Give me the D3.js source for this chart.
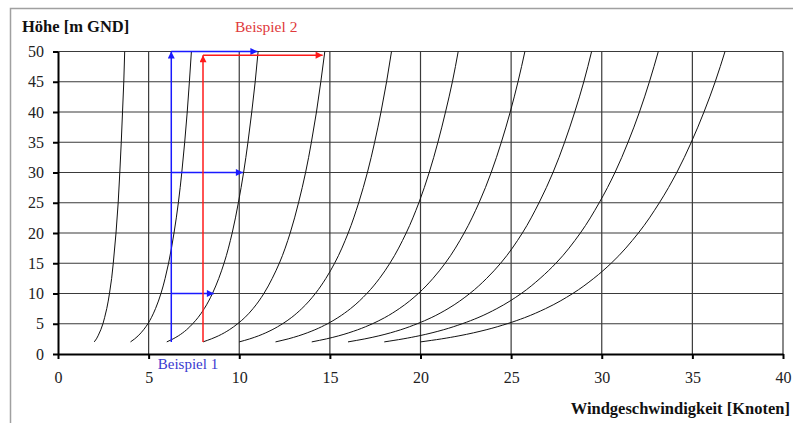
<!DOCTYPE html>
<html>
<head>
<meta charset="utf-8">
<script src="https://cdn.jsdelivr.net/npm/d3@7"></script>
<style>
  body { margin: 0; background: #fff; }
  svg text { font-family: "Liberation Serif", "Times New Roman", serif; }
</style>
</head>
<body>
<svg id="chart" width="793" height="423"></svg>
<script>
// Windprofil: Geschwindigkeit über Höhe, Kurven ab 2 m
const heights = [2, 2.5, 3, 4, 5, 6, 7.5, 10, 12.5, 15, 20, 25, 30, 35, 40, 45, 50];

const curve2  = [2.00, 2.12, 2.21, 2.36, 2.48, 2.57, 2.69, 2.84, 2.96, 3.05, 3.20, 3.32, 3.41, 3.49, 3.56, 3.63, 3.68];
const curve4  = [4.00, 4.23, 4.42, 4.72, 4.96, 5.15, 5.38, 5.68, 5.91, 6.10, 6.40, 6.64, 6.83, 6.99, 7.13, 7.25, 7.36];
const curve6  = [6.00, 6.35, 6.64, 7.09, 7.43, 7.72, 8.07, 8.52, 8.87, 9.16, 9.61, 9.95, 10.24, 10.48, 10.69, 10.88, 11.04];
const curve8  = [8.00, 8.46, 8.85, 9.45, 9.91, 10.30, 10.76, 11.36, 11.82, 12.21, 12.81, 13.27, 13.66, 13.98, 14.26, 14.50, 14.72];
const curve10 = [10.00, 10.58, 11.06, 11.81, 12.39, 12.87, 13.45, 14.20, 14.78, 15.26, 16.01, 16.59, 17.07, 17.47, 17.82, 18.13, 18.40];
const curve12 = [12.00, 12.70, 13.27, 14.17, 14.87, 15.44, 16.14, 17.04, 17.74, 18.31, 19.21, 19.91, 20.48, 20.96, 21.38, 21.76, 22.08];
const curve14 = [14.00, 14.81, 15.48, 16.53, 17.35, 18.02, 18.83, 19.88, 20.69, 21.36, 22.41, 23.23, 23.90, 24.46, 24.95, 25.38, 25.76];
const curve16 = [16.00, 16.93, 17.70, 18.90, 19.82, 20.59, 21.52, 22.72, 23.65, 24.42, 25.62, 26.54, 27.31, 27.95, 28.51, 29.01, 29.44];
const curve18 = [18.00, 19.04, 19.91, 21.26, 22.30, 23.17, 24.21, 25.56, 26.60, 27.47, 28.82, 29.86, 30.73, 31.45, 32.08, 32.63, 33.12];
const curve20 = [20.00, 21.16, 22.12, 23.62, 24.78, 25.74, 26.90, 28.40, 29.56, 30.52, 32.02, 33.18, 34.14, 34.94, 35.64, 36.26, 36.80];
const curves = [curve2, curve4, curve6, curve8, curve10, curve12, curve14, curve16, curve18, curve20];

const xTicks = [0, 5, 10, 15, 20, 25, 30, 35, 40];
const yTicks = [0, 5, 10, 15, 20, 25, 30, 35, 40, 45, 50];

// Beispiele: senkrechte Linie [x, h von, h bis], Pfeile [h, x bis]
const beispiel1Line = [6.25, 2, 50];
const beispiel1Arrows = [[10, 8.6], [30, 10.2], [50, 11.0]];
const beispiel2Line = [8.0, 2, 49.4];
const beispiel2Arrows = [[49.4, 14.6]];

const svg = d3.select('#chart');
const x = d3.scaleLinear().domain([0, 40]).range([58, 783]);
const y = d3.scaleLinear().domain([0, 50]).range([354, 51.5]);

// Rahmen (oben und links)
svg.append('path')
  .attr('d', 'M10.5,423 L10.5,8.5 L793,8.5')
  .attr('fill', 'none').attr('stroke', '#a0a0a0').attr('stroke-width', 1.5);

// Gitter
svg.append('g').selectAll('line').data(xTicks.slice(1)).join('line')
  .attr('x1', d => x(d)).attr('x2', d => x(d))
  .attr('y1', y(0)).attr('y2', y(50))
  .attr('stroke', '#3a3a3a').attr('stroke-width', 1.2);
svg.append('g').selectAll('line').data(yTicks.slice(1)).join('line')
  .attr('x1', x(0)).attr('x2', x(40))
  .attr('y1', d => y(d)).attr('y2', d => y(d))
  .attr('stroke', '#3a3a3a').attr('stroke-width', 1.2);

// Achsen
const ax = svg.append('g').attr('transform', `translate(0,${y(0)})`)
  .call(d3.axisBottom(x).tickValues(xTicks).tickSize(5).tickPadding(13).tickSizeOuter(0));
const ay = svg.append('g').attr('transform', `translate(${x(0)},0)`)
  .call(d3.axisLeft(y).tickValues(yTicks).tickSize(5).tickPadding(9).tickSizeOuter(0));
[ax, ay].forEach(a => {
  a.select('.domain').attr('stroke', '#000').attr('stroke-width', 2);
  a.selectAll('.tick line').attr('stroke', '#000').attr('stroke-width', 2);
  a.selectAll('.tick text').attr('fill', '#222').style('font-size', '16px')
    .style('font-family', '"Liberation Serif", serif');
});

// Profilkurven
const line = d3.line()
  .x(d => x(d[0])).y(d => y(d[1]))
  .curve(d3.curveMonotoneY);
svg.append('g').selectAll('path').data(curves).join('path')
  .attr('d', c => line(c.map((v, i) => [v, heights[i]])))
  .attr('fill', 'none').attr('stroke', '#111').attr('stroke-width', 1);

// Pfeilspitzen
const defs = svg.append('defs');
[['blue', '#1a1aff'], ['red', '#ff1a1a']].forEach(([id, col]) => {
  defs.append('marker').attr('id', 'arr-' + id)
    .attr('viewBox', '0 0 10 10').attr('refX', 10).attr('refY', 5)
    .attr('markerWidth', 10).attr('markerHeight', 7)
    .attr('markerUnits', 'userSpaceOnUse').attr('orient', 'auto')
    .append('path').attr('d', 'M0,0 L10,5 L0,10 Z').attr('fill', col);
});

function drawExample(lineDef, arrows, id, col) {
  const g = svg.append('g');
  g.append('line')
    .attr('x1', x(lineDef[0])).attr('x2', x(lineDef[0]))
    .attr('y1', y(lineDef[1])).attr('y2', y(lineDef[2]))
    .attr('stroke', col).attr('stroke-width', 1.5)
    .attr('marker-end', `url(#arr-${id})`);
  g.selectAll('.h').data(arrows).join('line')
    .attr('x1', x(lineDef[0])).attr('x2', d => x(d[1]))
    .attr('y1', d => y(d[0])).attr('y2', d => y(d[0]))
    .attr('stroke', col).attr('stroke-width', 1.5)
    .attr('marker-end', `url(#arr-${id})`);
}
drawExample(beispiel1Line, beispiel1Arrows, 'blue', '#1a1aff');
drawExample(beispiel2Line, beispiel2Arrows, 'red', '#ff1a1a');

// Beschriftungen
svg.append('text').attr('x', 22).attr('y', 32)
  .style('font-size', '16.5px').style('font-weight', 'bold').attr('fill', '#111')
  .text('Höhe [m GND]');
svg.append('text').attr('x', 235).attr('y', 32)
  .style('font-size', '15.5px').attr('fill', '#e0393b')
  .text('Beispiel 2');
svg.append('text').attr('x', 188).attr('y', 369).attr('text-anchor', 'middle')
  .style('font-size', '15px').attr('fill', '#3a3ad0')
  .text('Beispiel 1');
svg.append('text').attr('x', 790).attr('y', 414).attr('text-anchor', 'end')
  .style('font-size', '16.5px').style('font-weight', 'bold').attr('fill', '#111')
  .text('Windgeschwindigkeit [Knoten]');
</script>
</body>
</html>
